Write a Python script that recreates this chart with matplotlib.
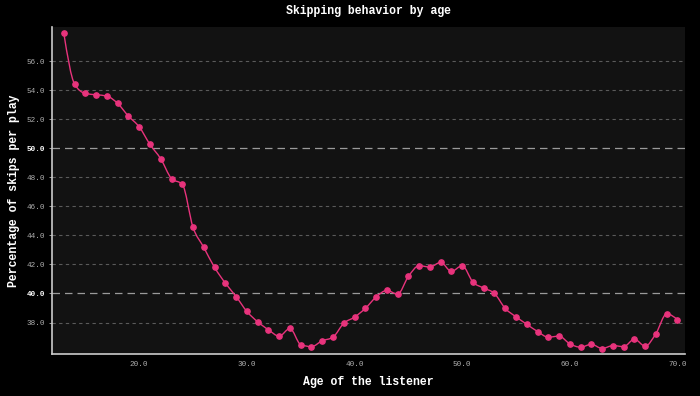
import matplotlib
matplotlib.use("Agg")
import matplotlib.pyplot as plt
from matplotlib.path import Path
from matplotlib.patches import PathPatch
import numpy as np

# skip share by listener age
ages = list(range(13, 71))
skip_pct = [57.9, 54.41, 53.77, 53.68, 53.59, 53.08, 52.21, 51.47, 50.26, 49.27,
            47.91, 47.52, 44.55, 43.17, 41.79, 40.71, 39.79, 38.76, 38.05, 37.50,
            37.06, 37.59, 36.48, 36.34, 36.74, 36.99, 37.95, 38.37, 38.97, 39.75,
            40.21, 39.95, 41.17, 41.91, 41.82, 42.14, 41.52, 41.91, 40.78, 40.37,
            40.00, 38.97, 38.39, 37.88, 37.38, 36.99, 37.06, 36.53, 36.30, 36.50,
            36.21, 36.41, 36.34, 36.85, 36.37, 37.24, 38.60, 38.19]
y_ticks = [38, 40, 42, 44, 46, 48, 50, 52, 54, 56]
x_ticks = [20, 30, 40, 50, 60, 70]
major_ticks = [40, 50]

PINK = '#e8337c'
MONO = 'Liberation Mono'


def monotone_path(x, y):
    """bezier path through the points, monotone in x (like d3 curveMonotoneX)"""
    x = np.asarray(x, float)
    y = np.asarray(y, float)
    n = len(x)
    h = np.diff(x)
    s = np.diff(y) / h
    t = np.zeros(n)
    for i in range(1, n - 1):
        p = (s[i - 1] * h[i] + s[i] * h[i - 1]) / (h[i - 1] + h[i])
        t[i] = (np.sign(s[i - 1]) + np.sign(s[i])) * min(abs(s[i - 1]), abs(s[i]), 0.5 * abs(p))
    t[0] = (3 * s[0] - t[1]) / 2
    t[-1] = (3 * s[-1] - t[-2]) / 2
    verts = [(x[0], y[0])]
    codes = [Path.MOVETO]
    for i in range(n - 1):
        dx = h[i] / 3
        verts += [(x[i] + dx, y[i] + dx * t[i]),
                  (x[i + 1] - dx, y[i + 1] - dx * t[i + 1]),
                  (x[i + 1], y[i + 1])]
        codes += [Path.CURVE4] * 3
    return Path(verts, codes)


fig = plt.figure(figsize=(7, 3.96), dpi=100, facecolor='black')
ax = fig.add_axes([0.0743, 0.106, 0.9043, 0.826])
ax.set_facecolor('#121212')

# grid
for v in y_ticks:
    if v in major_ticks:
        ax.axhline(v, color='#9a9a9a', lw=0.9, dashes=(6, 4), zorder=1)
    else:
        ax.axhline(v, color='#5a5a5a', lw=0.8, dashes=(3, 3), zorder=1)

ax.add_patch(PathPatch(monotone_path(ages, skip_pct), fill=False, edgecolor=PINK, lw=1.0, zorder=3))
ax.plot(ages, skip_pct, linestyle='none', marker='o', markersize=3.8, color=PINK, zorder=4)

ax.set_xlim(11.9, 70.7)
ax.set_ylim(35.83, 58.35)

ax.set_xticks(x_ticks)
ax.set_xticklabels([f'{v:.1f}' for v in x_ticks])
ax.set_yticks(y_ticks)
ax.set_yticklabels([f'{v:.1f}' for v in y_ticks])
ax.tick_params(axis='x', length=0, pad=5, labelsize=5.5, colors='#b0b0b0')
ax.tick_params(axis='y', length=2, width=0.6, pad=3, labelsize=5.5, colors='#b0b0b0')
for lab in ax.get_xticklabels() + ax.get_yticklabels():
    lab.set_fontfamily(MONO)
for lab, v in zip(ax.get_yticklabels(), y_ticks):
    if v in major_ticks:
        lab.set_color('white')
        lab.set_fontweight('bold')

for side in ['top', 'right']:
    ax.spines[side].set_visible(False)
for side in ['left', 'bottom']:
    ax.spines[side].set_color('#cccccc')
    ax.spines[side].set_linewidth(1.2)

ax.set_title('Skipping behavior by age', fontfamily=MONO, fontweight='bold',
             fontsize=8.3, color='white', pad=9)
ax.set_xlabel('Age of the listener', fontfamily=MONO, fontweight='bold',
              fontsize=8.3, color='white', labelpad=6)
ax.set_ylabel('Percentage of skips per play', fontfamily=MONO, fontweight='bold',
              fontsize=8.3, color='white', labelpad=5)

plt.savefig('out.png', dpi=100, facecolor='black')
